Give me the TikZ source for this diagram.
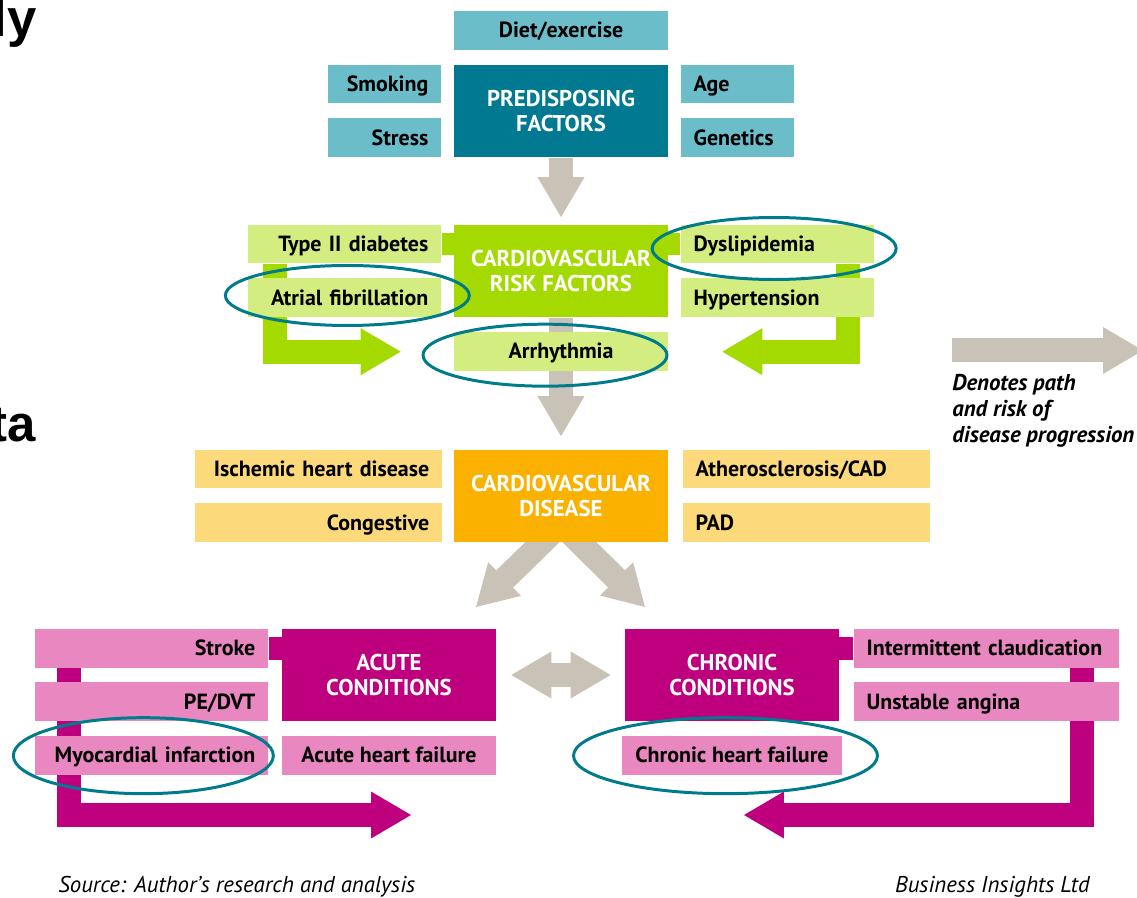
\documentclass[tikz,border=0pt]{standalone}
\usepackage{fontspec}
\setmainfont{PT Sans}
\newfontfamily\fragfont{Liberation Sans}
\usetikzlibrary{positioning,calc,arrows.meta,backgrounds}

\definecolor{tealdark}{RGB}{0,121,145}
\definecolor{teallight}{RGB}{107,189,201}
\definecolor{limedark}{RGB}{164,218,0}
\definecolor{limelight}{RGB}{212,237,128}
\definecolor{ambdark}{RGB}{250,177,0}
\definecolor{amblight}{RGB}{252,217,122}
\definecolor{magdark}{RGB}{190,0,126}
\definecolor{maglight}{RGB}{232,135,192}
\definecolor{pathgrey}{RGB}{201,194,182}
\definecolor{ringteal}{RGB}{0,123,140}

\tikzset{
  box/.style={rectangle, inner xsep=0.26cm, inner ysep=0pt, minimum height=0.78cm,
    text height=0.8em, text depth=0pt, font=\bfseries\fontsize{12.5}{14}\selectfont},
  lbox/.style={box, text width=#1, align=right},
  rbox/.style={box, text width=#1, align=left},
  cbox/.style={box, minimum width=#1, align=center},
  mainbox/.style={rectangle, minimum width=4.28cm, minimum height=1.86cm, align=center,
    text=white, font=\bfseries\fontsize{13}{14.2}\selectfont},
  blockarrow/.style={line width=0.48cm, line join=miter,
    -{Triangle[length=0.8cm, width=0.94cm, line width=0pt]}},
  joinbar/.style={line width=0.46cm},
  ring/.style={draw=ringteal, line width=1.7pt}
}

\begin{document}
\begin{tikzpicture}[x=0.02cm,y=-0.02cm]
  \useasboundingbox (0,0) rectangle (1137,898);
  \clip (0,0) rectangle (1137,898);

  % predisposing factors
  \node[mainbox, fill=tealdark] (pre) at (561,111) {PREDISPOSING\\FACTORS};
  \node[cbox=4.28cm, fill=teallight, above=0.28cm of pre] (diet) {Diet/exercise};
  \node[lbox=1.74cm, fill=teallight, below left=0cm and 0.24cm of pre.north west] (smok) {Smoking};
  \node[lbox=1.74cm, fill=teallight, above left=0cm and 0.24cm of pre.south west] (stress) {Stress};
  \node[rbox=1.74cm, fill=teallight, below right=0cm and 0.24cm of pre.north east] (age) {Age};
  \node[rbox=1.74cm, fill=teallight, above right=0cm and 0.24cm of pre.south east] (gen) {Genetics};

  % risk factors
  \node[mainbox, fill=limedark] (risk) at (561,271) {CARDIOVASCULAR\\RISK FACTORS};
  \node[lbox=3.34cm, fill=limelight, below left=0cm and 0.24cm of risk.north west] (tdiab) {Type II diabetes};
  \node[lbox=3.34cm, fill=limelight, above left=0cm and 0.24cm of risk.south west] (afib) {Atrial fibrillation};
  \node[rbox=3.34cm, fill=limelight, below right=0cm and 0.24cm of risk.north east] (dysl) {Dyslipidemia};
  \node[rbox=3.34cm, fill=limelight, above right=0cm and 0.24cm of risk.south east] (hyper) {Hypertension};
  \node[cbox=4.28cm, fill=limelight, below=0.28cm of risk] (arrh) {Arrhythmia};

  % disease
  \node[mainbox, fill=ambdark] (cvd) at (561,496) {CARDIOVASCULAR\\DISEASE};
  \node[lbox=4.42cm, fill=amblight, below left=0cm and 0.22cm of cvd.north west] (isch) {Ischemic heart disease};
  \node[lbox=4.42cm, fill=amblight, above left=0cm and 0.22cm of cvd.south west] (cong) {Congestive};
  \node[rbox=4.42cm, fill=amblight, below right=0cm and 0.28cm of cvd.north east] (ath) {Atherosclerosis/CAD};
  \node[rbox=4.42cm, fill=amblight, above right=0cm and 0.28cm of cvd.south east] (pad) {PAD};

  % conditions
  \node[mainbox, fill=magdark] (acute) at (389,675) {ACUTE\\CONDITIONS};
  \node[lbox=4.14cm, fill=maglight, below left=0cm and 0.26cm of acute.north west] (stroke) {Stroke};
  \node[lbox=4.14cm, fill=maglight, above left=0cm and 0.26cm of acute.south west] (pedvt) {PE/DVT};
  \node[lbox=4.14cm, fill=maglight, below=0.28cm of pedvt] (myo) {Myocardial infarction};
  \node[cbox=4.28cm, fill=maglight, below=0.28cm of acute] (ahf) {Acute heart failure};
  \node[mainbox, fill=magdark] (chron) at (732,675) {CHRONIC\\CONDITIONS};
  \node[rbox=4.78cm, fill=maglight, below right=0cm and 0.28cm of chron.north east] (interm) {Intermittent claudication};
  \node[rbox=4.78cm, fill=maglight, above right=0cm and 0.28cm of chron.south east] (unst) {Unstable angina};
  \node[cbox=4.28cm, fill=maglight, below=0.28cm of chron] (chf) {Chronic heart failure};

  \coordinate (acutetip) at (476,607);
  \coordinate (chrontip) at (645,607);
  \coordinate (acuteend) at (411,815);
  \coordinate (chronend) at (744,815);
  \coordinate (legstart) at (952,350.5);
  \coordinate (legtip) at (1143,350.5);

  \begin{pgfonlayer}{background}
    \draw[joinbar, limedark] (tdiab.east) -- (tdiab.east -| risk.west);
    \draw[joinbar, limedark] (dysl.west) -- (dysl.west -| risk.east);
    \draw[joinbar, magdark] (stroke.east) -- (stroke.east -| acute.west);
    \draw[joinbar, magdark] (interm.west) -- (interm.west -| chron.east);

    \draw[blockarrow, pathgrey] (pre.south) -- ($(risk.north)+(0,-7)$);
    \draw[blockarrow, pathgrey] (risk.south) -- ($(cvd.north)+(0,-13)$);
    \draw[blockarrow, pathgrey] ($(cvd.south)+(-7,-12)$) -- (acutetip);
    \draw[blockarrow, pathgrey] ($(cvd.south)+(7,-12)$) -- (chrontip);
    \draw[blockarrow, pathgrey, {Triangle[length=0.8cm, width=0.94cm, line width=0pt]}-{Triangle[length=0.8cm, width=0.94cm, line width=0pt]}]
      ($(acute.east)+(15,0)$) -- ($(chron.west)+(-14,0)$);
    \draw[blockarrow, pathgrey] (legstart) -- (legtip);

    \draw[blockarrow, limedark] ($(tdiab.south west)+(27,0)$) |- ($(arrh.west)+(-53,0)$);
    \draw[blockarrow, limedark] ($(dysl.south east)+(-26,0)$) |- ($(arrh.east)+(54,0)$);
    \draw[blockarrow, magdark] ($(stroke.south west)+(34,0)$) |- (acuteend);
    \draw[blockarrow, magdark] ($(interm.south east)+(-37,0)$) |- (chronend);
  \end{pgfonlayer}

  \draw[ring] ([shift={(-3,4.5)}]dysl.center) ellipse [x radius=2.44cm, y radius=0.62cm];
  \draw[ring] ([shift={(2.5,-2.5)}]afib.center) ellipse [x radius=2.44cm, y radius=0.60cm];
  \draw[ring] ([shift={(-16,3.5)}]arrh.center) ellipse [x radius=2.44cm, y radius=0.62cm];
  \draw[ring] ([shift={(-8.5,0)}]myo.center) ellipse [x radius=2.6cm, y radius=0.76cm];
  \draw[ring] ([shift={(-6.5,0)}]chf.center) ellipse [x radius=3.04cm, y radius=0.76cm];

  \node[anchor=north west, inner sep=0pt, align=left,
    font=\bfseries\itshape\fontsize{13}{14.7}\selectfont] (legtext) at (952,374)
    {Denotes path\\and risk of\\disease progression};

  \node[anchor=base west, inner sep=0pt, font=\itshape\fontsize{13}{14}\selectfont] (src) at (58,892)
    {Source: Author's research and analysis};
  \node[anchor=base east, inner sep=0pt, font=\itshape\fontsize{13}{14}\selectfont] (pub) at (1090,892)
    {Business Insights Ltd};

  \node[anchor=base west, inner sep=0pt, font=\fragfont\bfseries\fontsize{30}{30}\selectfont] (fragly) at (-8,37) {ly};
  \node[anchor=base west, inner sep=0pt, font=\fragfont\bfseries\fontsize{29}{29}\selectfont] (fragta) at (-10,442) {ta};
\end{tikzpicture}
\end{document}
